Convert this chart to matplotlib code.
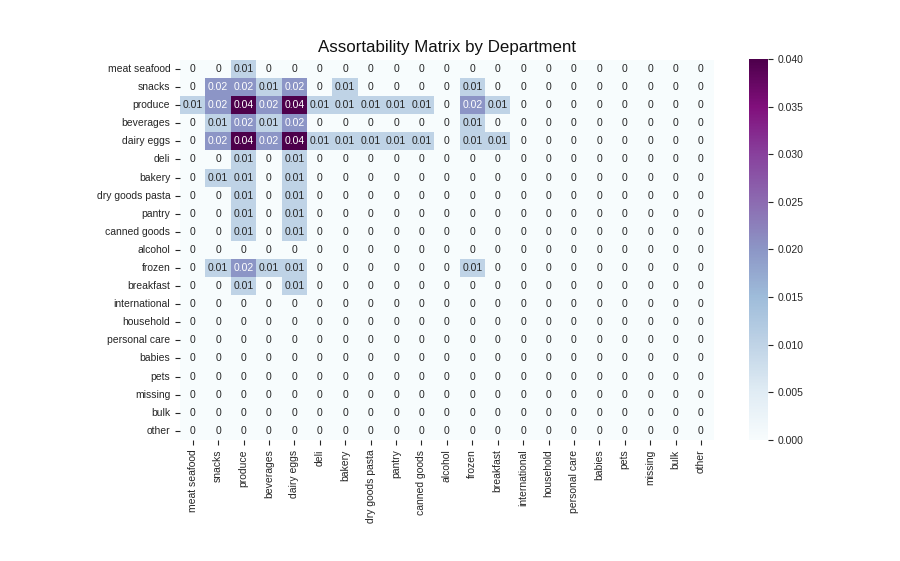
import numpy as np
import matplotlib
matplotlib.use("Agg")
import matplotlib.pyplot as plt
import seaborn as sns

plt.rcParams['font.family'] = ['Liberation Sans', 'DejaVu Sans']

departments = ["meat seafood", "snacks", "produce", "beverages", "dairy eggs", "deli",
               "bakery", "dry goods pasta", "pantry", "canned goods", "alcohol", "frozen",
               "breakfast", "international", "household", "personal care", "babies",
               "pets", "missing", "bulk", "other"]

# non-zero rows (order of columns = departments); remaining rows are all zero
row_meat_seafood = [0, 0, 0.01, 0, 0, 0, 0, 0, 0, 0, 0, 0, 0]
row_snacks       = [0, 0.02, 0.02, 0.01, 0.02, 0, 0.01, 0, 0, 0, 0, 0.01, 0]
row_produce      = [0.01, 0.02, 0.04, 0.02, 0.04, 0.01, 0.01, 0.01, 0.01, 0.01, 0, 0.02, 0.01]
row_beverages    = [0, 0.01, 0.02, 0.01, 0.02, 0, 0, 0, 0, 0, 0, 0.01, 0]
row_dairy_eggs   = [0, 0.02, 0.04, 0.02, 0.04, 0.01, 0.01, 0.01, 0.01, 0.01, 0, 0.01, 0.01]
row_deli         = [0, 0, 0.01, 0, 0.01]
row_bakery       = [0, 0.01, 0.01, 0, 0.01]
row_dry_goods    = [0, 0, 0.01, 0, 0.01]
row_pantry       = [0, 0, 0.01, 0, 0.01]
row_canned       = [0, 0, 0.01, 0, 0.01]
row_alcohol      = [0]
row_frozen       = [0, 0.01, 0.02, 0.01, 0.01, 0, 0, 0, 0, 0, 0, 0.01]
row_breakfast    = [0, 0, 0.01, 0, 0.01]

rows = [row_meat_seafood, row_snacks, row_produce, row_beverages, row_dairy_eggs,
        row_deli, row_bakery, row_dry_goods, row_pantry, row_canned, row_alcohol,
        row_frozen, row_breakfast]

n = len(departments)
matrix = np.zeros((n, n))
for i, r in enumerate(rows):
    matrix[i, :len(r)] = r

fig = plt.figure(figsize=(9, 5.61), dpi=100)
ax = fig.add_axes([0.2, 0.216, 0.593, 0.677])
cax = fig.add_axes([0.832, 0.216, 0.021, 0.679])

sns.heatmap(matrix, ax=ax, cbar_ax=cax, cmap="BuPu", vmin=0, vmax=0.04,
            annot=True, annot_kws={"fontsize": 7.5},
            xticklabels=departments, yticklabels=departments)

ax.tick_params(axis='both', labelsize=7.5, length=3.5, colors='#262626')
ax.set_xticklabels(departments, rotation=90)
ax.set_yticklabels(departments, rotation=0)
ax.set_title("Assortability Matrix by Department", fontsize=12.2, color='#111111')

cax.yaxis.set_major_locator(matplotlib.ticker.MultipleLocator(0.005))
cax.yaxis.set_major_formatter(matplotlib.ticker.FormatStrFormatter('%.3f'))
cax.tick_params(labelsize=7.5, length=3.5, colors='#262626')

fig.savefig("out.png", dpi=100, facecolor='white')
